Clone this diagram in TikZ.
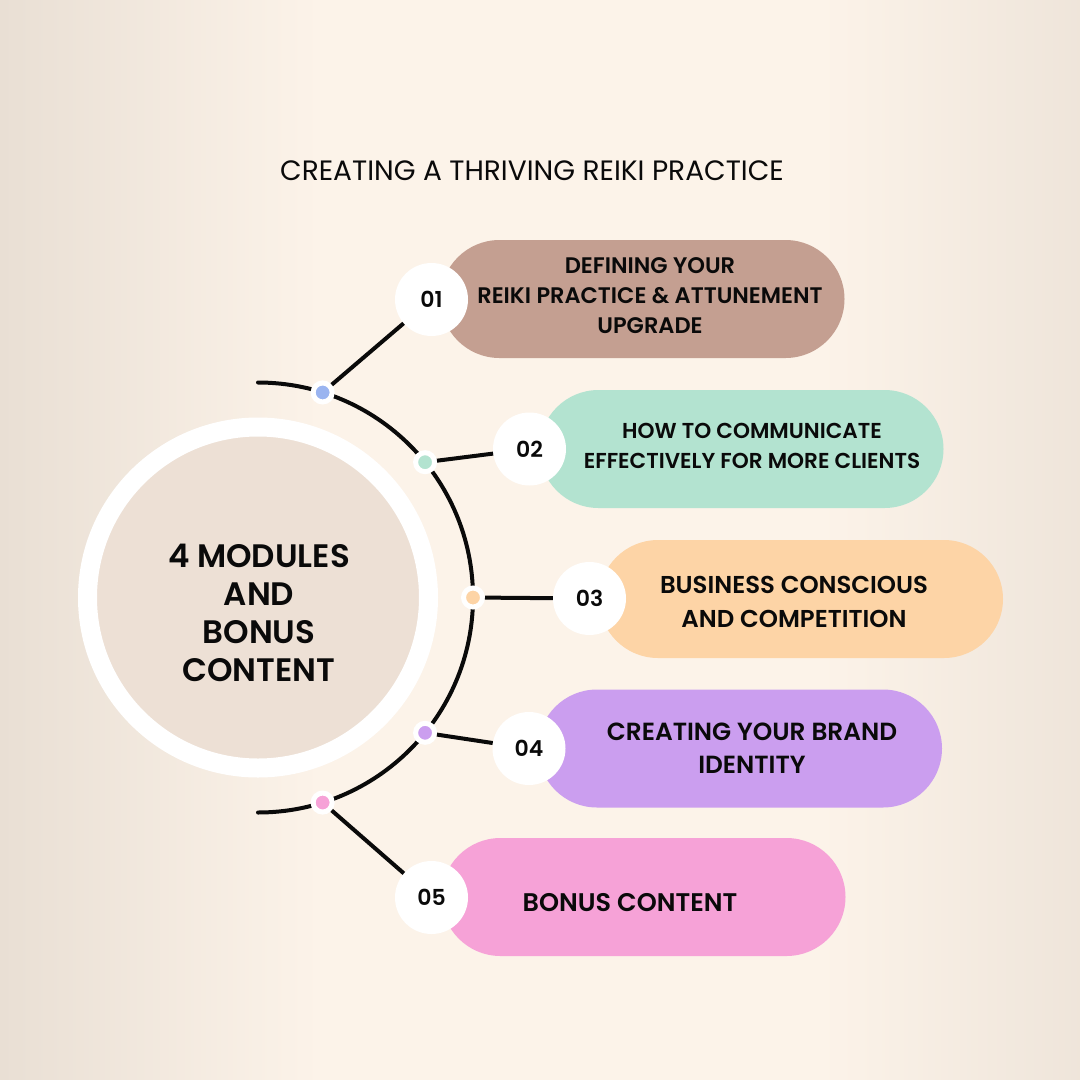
\documentclass[tikz,border=0pt]{standalone}
\usepackage{fontspec}
\setmainfont{Poppins}[BoldFont={* SemiBold}]
\usepackage{tikz}
\usetikzlibrary{positioning, calc, shapes.misc}
\definecolor{bgcream}{HTML}{FCF3E9}
\definecolor{bgshade}{HTML}{E9DFD4}
\definecolor{hubfill}{HTML}{EDE0D5}
\definecolor{modbrown}{HTML}{C49F91}
\definecolor{modmint}{HTML}{B3E3D0}
\definecolor{modpeach}{HTML}{FDD4A6}
\definecolor{modlilac}{HTML}{CB9EEF}
\definecolor{modpink}{HTML}{F6A2D7}
\definecolor{dotblue}{HTML}{9AB4F0}
\definecolor{inkblack}{HTML}{0A0A0A}

\begin{document}
\begin{tikzpicture}[x=1pt, y=-1pt,
    modpill/.style={rounded rectangle, minimum width=404pt, minimum height=118pt, inner sep=0pt},
    numdisc/.style={circle, fill=white, minimum size=73pt, inner sep=0pt, text=inkblack,
        font=\bfseries\fontsize{22}{22}\selectfont},
    railnode/.style={circle, draw=white, line width=5pt, minimum size=19pt, inner sep=0pt},
    pilltext/.style={align=center, inner sep=0pt, text=inkblack},
    link/.style={line width=4pt, inkblack}]
    \useasboundingbox (0,0) rectangle (1080,1080);
    \fill[bgcream] (0,0) rectangle (1080,1080);
    \shade[left color=bgshade, right color=bgcream] (0,0) rectangle (320,1080);
    \shade[left color=bgcream, right color=bgshade!70!bgcream] (820,0) rectangle (1080,1080);

    \node[inner sep=0pt, text=inkblack, font=\fontsize{28}{28}\selectfont] (title) at (532,171) {CREATING A THRIVING REIKI PRACTICE};

    \coordinate (hubc) at (258,597.5);
    \node[circle, draw=white, line width=19pt, fill=hubfill, minimum size=341pt, inner sep=0pt] (hub) at (hubc) {};
    \node[pilltext, font=\bfseries\fontsize{32.5}{38}\selectfont] (hubtext) at (259,612.5) {4 MODULES\\AND\\BONUS\\CONTENT};

    \draw[line width=4pt, inkblack, line cap=round] ($(hubc)+(-90:215)$) arc[start angle=-90, end angle=90, radius=215];

    \foreach \px/\py/\col/\name in {642.5/299/modbrown/p1, 741.5/449/modmint/p2, 801/599/modpeach/p3,
        740/748.5/modlilac/p4, 643.5/897/modpink/p5}
        \node[modpill, fill=\col] (\name) at (\px,\py) {};

    \node[pilltext, font=\bfseries\fontsize{22.5}{30}\selectfont] (t1) at (650,295.8)
        {DEFINING YOUR\\REIKI PRACTICE \& ATTUNEMENT\\UPGRADE};
    \node[pilltext, font=\bfseries\fontsize{21.6}{29.7}\selectfont] (t2) at (752,445.7)
        {HOW TO COMMUNICATE\\EFFECTIVELY FOR MORE CLIENTS};
    \node[pilltext, font=\bfseries\fontsize{24.4}{33.7}\selectfont] (t3) at (794,601.8)
        {BUSINESS CONSCIOUS\\AND COMPETITION};
    \node[pilltext, font=\bfseries\fontsize{24.8}{32.5}\selectfont] (t4) at (752,748)
        {CREATING YOUR BRAND\\IDENTITY};
    \node[pilltext, font=\bfseries\fontsize{25.5}{30}\selectfont] (t5) at (630,902.5)
        {BONUS CONTENT};

    \foreach \ang/\col/\name in {-72.5/dotblue/d1, -39/modmint/d2, 0/modpeach/d3, 39/modlilac/d4, 72.5/modpink/d5}
        \node[railnode, fill=\col] (\name) at ($(hubc)+(\ang:215)$) {};

    \foreach \px/\py/\num/\name in {431.5/299.5/01/n1, 529.5/449/02/n2, 589.5/598.5/03/n3,
        529/748.5/04/n4, 431.5/897.5/05/n5}
        \node[numdisc] (\name) at (\px,\py) {\num};

    \foreach \i in {1,...,5}
        \draw[link] (d\i) -- (n\i);
\end{tikzpicture}
\end{document}
